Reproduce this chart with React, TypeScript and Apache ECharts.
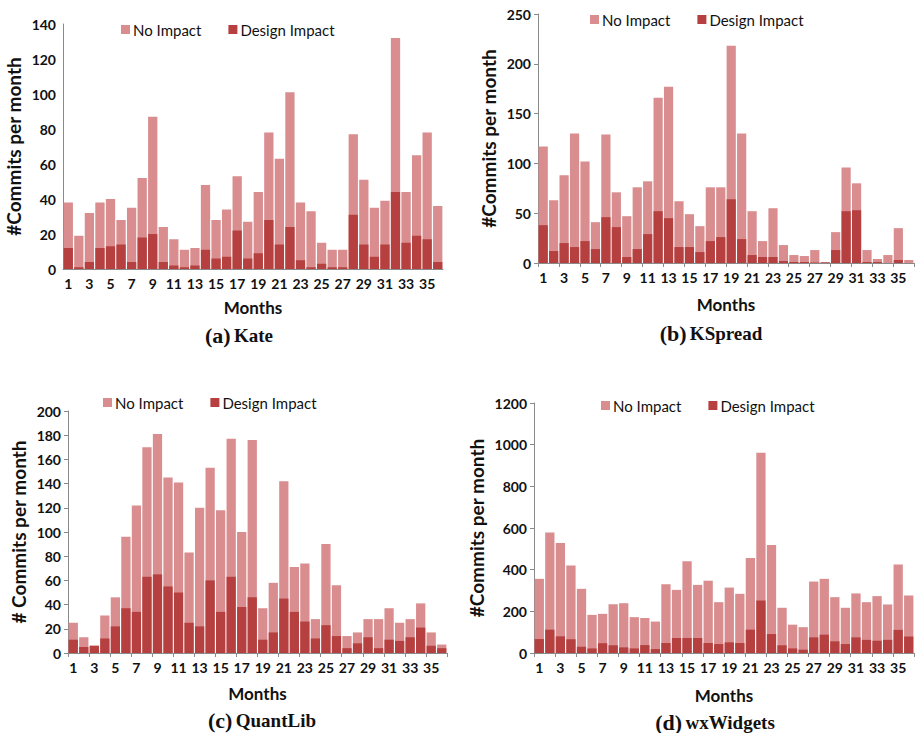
import React, { useEffect, useRef } from "react";
import * as echarts from "echarts";

const months = ["1","2","3","4","5","6","7","8","9","10","11","12","13","14","15","16","17","18","19","20","21","22","23","24","25","26","27","28","29","30","31","32","33","34","35","36"];

const kateTotal = [38,19,32,38,40,28,35,52,87,24,17,11,12,48,28,34,53,27,44,78,63,101,38,33,15,11,11,77,51,35,39,132,44,65,78,36];
const kateDesign = [12,1,4,12,13,14,4,18,20,4,2,1,2,11,6,7,22,6,9,28,14,24,5,1,3,1,1,31,14,7,14,44,15,19,17,4];

const kspreadTotal = [117,63,88,130,102,41,129,71,47,76,82,166,177,62,49,37,76,76,218,130,52,22,55,18,8,7,13,1,31,96,80,13,4,8,35,3];
const kspreadDesign = [38,12,20,16,22,14,46,36,6,14,29,52,45,16,16,11,22,26,64,24,8,6,6,2,1,1,0.5,0.5,13,52,53,1,1,0,3,0];

const quantTotal = [25,13,6,31,46,96,122,170,181,145,141,83,120,153,118,177,100,176,37,58,142,71,74,28,90,56,14,17,28,28,37,25,28,41,17,7];
const quantDesign = [11,5,6,12,22,37,34,63,65,55,50,25,22,60,34,63,38,46,11,17,45,34,26,12,23,14,4,8,13,4,11,10,13,21,6,4];

const wxTotal = [356,578,528,420,308,183,188,234,239,172,168,151,330,303,440,327,347,244,314,284,456,961,518,217,136,124,343,356,268,217,286,244,273,233,425,276];
const wxDesign = [67,112,80,66,30,22,47,37,27,22,38,19,48,72,72,72,48,43,51,48,112,252,91,37,22,16,75,88,56,43,75,63,59,63,111,79];

const LIGHT = "#D98D8F";
const DARK = "#B5403F";
const AXIS = "#8a8a8a";
const SANS = "Lato";
const SERIF = "Liberation Serif";

export default function App() {
  const ref = useRef<HTMLDivElement>(null);
  useEffect(() => {
    const chart = echarts.init(ref.current!, null, { renderer: "svg" });
    const panels = [
      { total: kateTotal, design: kateDesign, max: 140, interval: 20, grid: { left: 63, top: 24, width: 380, height: 245 }, legend: { left: 121, top: 22 }, ticks: false, yGap: 40, xGap: 30, title: { x: 239, y: 335, p: "(a)", n: "Kate" } },
      { total: kspreadTotal, design: kspreadDesign, max: 250, interval: 50, grid: { left: 538, top: 14, width: 376, height: 249 }, legend: { left: 590, top: 12 }, ticks: true, yGap: 40, xGap: 33, title: { x: 711, y: 333, p: "(b)", n: "KSpread" } },
      { total: quantTotal, design: quantDesign, max: 200, interval: 20, grid: { left: 68, top: 411, width: 379, height: 242 }, legend: { left: 103, top: 395 }, ticks: true, yGap: 40, xGap: 32, title: { x: 262, y: 720, p: "(c)", n: "QuantLib" } },
      { total: wxTotal, design: wxDesign, max: 1200, interval: 200, grid: { left: 534, top: 403, width: 380, height: 250 }, legend: { left: 601, top: 398 }, ticks: true, yGap: 48, xGap: 34, title: { x: 715, y: 722, p: "(d)", n: "wxWidgets" } },
    ];

    const option: any = {
      animation: false,
      grid: panels.map((p) => ({ ...p.grid, containLabel: false })),
      legend: panels.map((p) => ({
        left: p.legend.left,
        top: p.legend.top,
        padding: 0,
        itemWidth: 9,
        itemHeight: 9,
        itemGap: 27,
        icon: "rect",
        data: ["No Impact", "Design Impact"],
        textStyle: { fontFamily: SANS, fontSize: 15, color: "#111", padding: [0, 0, 0, -2] },
      })),
      xAxis: panels.map((p, i) => ({
        type: "category",
        gridIndex: i,
        data: months,
        name: "Months",
        nameLocation: "middle",
        nameGap: p.xGap,
        nameTextStyle: { fontFamily: SANS, fontSize: 17, fontWeight: "bold", color: "#111" },
        axisLine: { lineStyle: { color: AXIS, width: 1 } },
        axisTick: { show: p.ticks, length: 4, lineStyle: { color: AXIS } },
        axisLabel: { interval: 1, fontFamily: SANS, fontSize: 14, fontWeight: "bold", color: "#111", margin: 7 },
      })),
      yAxis: panels.map((p, i) => ({
        type: "value",
        gridIndex: i,
        min: 0,
        max: p.max,
        interval: p.interval,
        name: i === 2 ? "# Commits per month" : "#Commits per month",
        nameLocation: "middle",
        nameGap: p.yGap,
        nameTextStyle: { fontFamily: SANS, fontSize: 19, fontWeight: "bold", color: "#111" },
        splitLine: { show: false },
        axisLine: { show: true, lineStyle: { color: AXIS, width: 1 } },
        axisTick: { show: p.ticks, length: 4, lineStyle: { color: AXIS } },
        axisLabel: { fontFamily: SANS, fontSize: 14, fontWeight: "bold", color: "#111", margin: 7, formatter: (v: number) => String(v) },
      })),
      series: panels.flatMap((p, i) => [
        {
          name: "No Impact",
          type: "bar",
          xAxisIndex: i,
          yAxisIndex: i,
          data: p.total,
          barCategoryGap: "12%",
          barGap: "-100%",
          itemStyle: { color: LIGHT },
        },
        {
          name: "Design Impact",
          type: "bar",
          xAxisIndex: i,
          yAxisIndex: i,
          data: p.design,
          barCategoryGap: "12%",
          barGap: "-100%",
          itemStyle: { color: DARK },
        },
      ]),
      graphic: panels.map((p) => ({
        type: "text",
        x: p.title.x,
        y: p.title.y,
        style: {
          text: `{p|${p.title.p}} {n|${p.title.n}}`,
          align: "center",
          verticalAlign: "middle",
          rich: {
            p: { fontFamily: SERIF, fontSize: 22, fontWeight: "bold", fill: "#111" },
            n: { fontFamily: SERIF, fontSize: 19, fontWeight: "bold", fill: "#111" },
          },
        },
      })),
    };
    chart.setOption(option);
    return () => chart.dispose();
  }, []);
  return <div ref={ref} style={{ position: "fixed", left: 0, top: 0, width: 916, height: 733, background: "#fff" }} />;
}
